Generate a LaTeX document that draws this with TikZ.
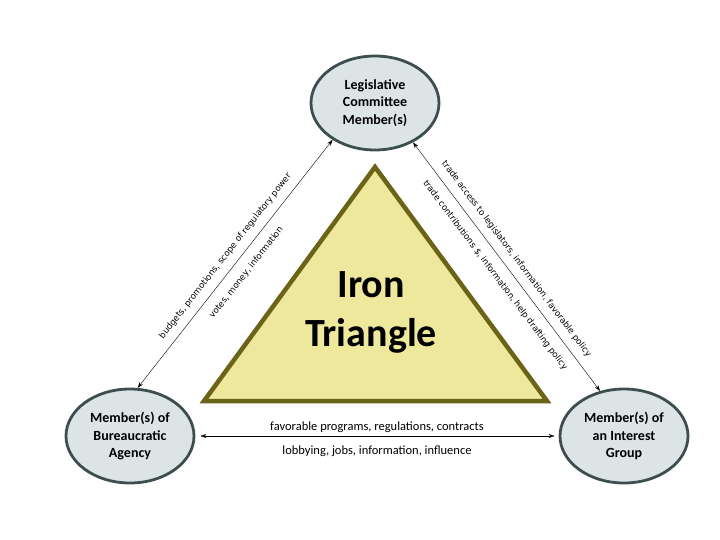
\documentclass[tikz,border=0pt]{standalone}
\usepackage{fontspec}
\setmainfont{Carlito}
\newfontfamily\labelfont{DejaVu Sans}
\usetikzlibrary{arrows.meta,shapes.geometric}
\definecolor{actorfill}{HTML}{DDE4E6}
\definecolor{actordraw}{HTML}{3E4E50}
\definecolor{trifill}{HTML}{EDE89B}
\definecolor{tridraw}{HTML}{6B6418}

\begin{document}
\begin{tikzpicture}[
    x=1pt, y=1pt,
    actor/.style={ellipse, draw=actordraw, line width=2.8pt, fill=actorfill,
                  minimum width=128pt, minimum height=94pt, inner sep=0pt,
                  align=center, font=\bfseries\fontsize{14}{17.5}\selectfont},
    tri/.style={draw=tridraw, line width=4.5pt, fill=trifill, line join=miter},
    arr/.style={{Stealth[length=6pt,width=4pt]}-{Stealth[length=6pt,width=4pt]}, thin},
    lab/.style={font=\labelfont\fontsize{8.6}{10}\selectfont, midway, sloped, inner sep=1pt},
    blab/.style={font=\fontsize{12.5}{14}\selectfont, midway, inner sep=1pt}
]
\useasboundingbox (0,0) rectangle (720,-540);

% --- the three actors ---
\node[actor] (legis) at (375,-103) {Legislative\\Committee\\Member(s)};
\node[actor] (agency) at (130,-436) {Member(s) of\\Bureaucratic\\Agency};
\node[actor] (group) at (624,-436) {Member(s) of\\an Interest\\Group};

% --- centre triangle ---
\draw[tri] (375,-167) -- (204,-401) -- (547,-401) -- cycle;
\node[font=\bfseries\fontsize{40}{49}\selectfont, align=center] (iron) at (371,-312) {Iron\\Triangle};

% --- exchanges ---
\draw[arr] (agency.81) -- (legis.221)
    node[lab, above=7pt] {budgets, promotions, scope of regulatory power}
    node[lab, below=9pt] {votes, money, information};
\draw[arr] (legis.314) -- (group.118)
    node[lab, above=7pt] {trade access to legislators, information, favorable policy}
    node[lab, below=9pt] {trade contributions \$, information, help drafting policy};
\draw[arr, shorten <=5pt, shorten >=4pt] (agency.east) -- (group.west)
    node[blab, above=2pt] {favorable programs, regulations, contracts}
    node[blab, below=9pt] {lobbying, jobs, information, influence};

\end{tikzpicture}
\end{document}
